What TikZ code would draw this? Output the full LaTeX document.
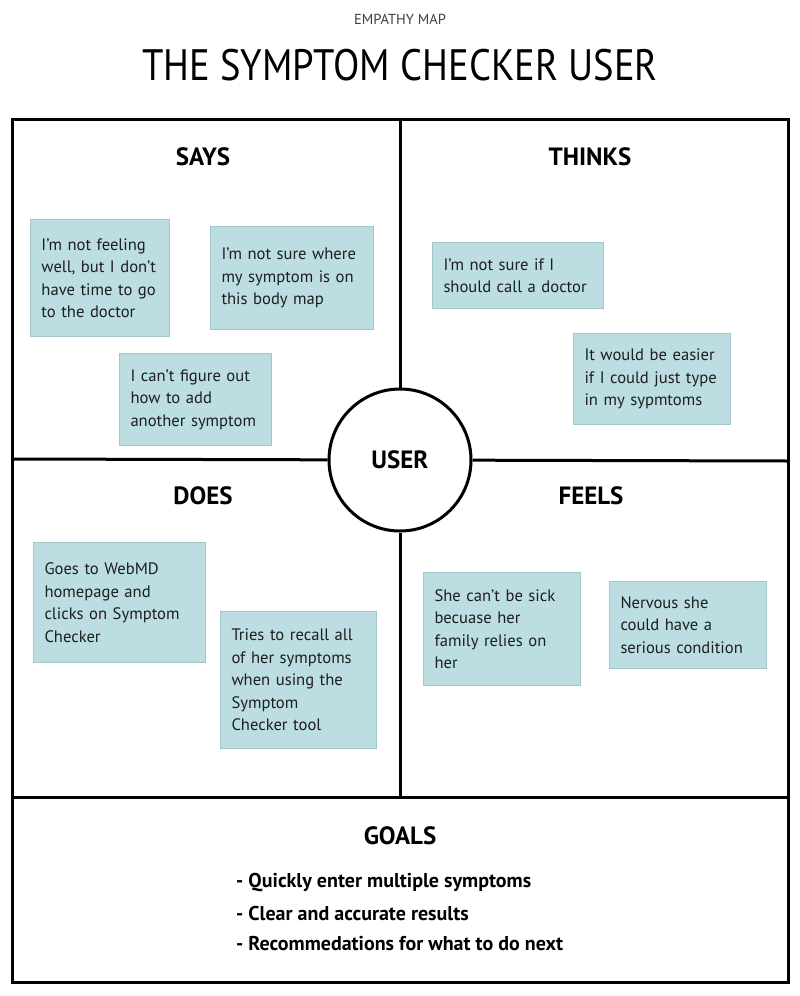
\documentclass[tikz,border=0pt]{standalone}
\usepackage{fontspec}
\usepackage{graphicx}
\setmainfont{PT Sans}
\usetikzlibrary{positioning}
\definecolor{notefill}{HTML}{BCDDE1}
\definecolor{noteline}{HTML}{A3C6CB}
\definecolor{inkgray}{HTML}{1E1E1E}
\begin{document}
\begin{tikzpicture}[x=1pt, y=-1pt,
	frame/.style = {line width=3pt},
	heading/.style = {font=\bfseries\fontsize{25}{29}\selectfont},
	note/.style = {draw=noteline, line width=1pt, fill=notefill, anchor=north west,
		align=left, inner xsep=11pt, text=inkgray, font=\fontsize{16.6}{22.5}\selectfont},
	goal/.style = {anchor=west, inner sep=0pt, font=\bfseries\fontsize{20}{24}\selectfont}]
	\useasboundingbox (0,0) rectangle (800,996);
	% Tiêu đề
	\node[text=black!75, font=\fontsize{14.5}{16}\selectfont] (kicker) at (400,19) {EMPATHY MAP};
	\node[font=\fontsize{44}{50}\selectfont] (title) at (400,65) {\scalebox{0.876}[1]{THE SYMPTOM CHECKER USER}};
	% Khung và vòng tròn
	\node[circle, draw, line width=3pt, fill=white, minimum size=142pt, inner sep=0pt,
		heading] (user) at (400,460) {USER};
	\coordinate (mt) at (400,119);
	\coordinate (mb) at (400,797);
	\coordinate (ml) at (12,459);
	\coordinate (mr) at (788,461);
	\draw[frame] (12,119) rectangle (788,982);
	\draw[frame] (12,797) -- (788,797);
	\draw[frame] (mt) -- (user);
	\draw[frame] (user) -- (mb);
	\draw[frame] (ml) -- (user);
	\draw[frame] (user) -- (mr);
	\foreach \hx/\hy/\htext in {203/157/SAYS, 590/157/THINKS, 203/496/DOES, 591/496/FEELS, 400/836/GOALS}
	\node[heading] (h\htext) at (\hx,\hy) {\htext};
	% Các ghi chú
	\node[note, minimum width=139pt, minimum height=117pt, text width=117pt] (says1) at (30,219)
		{I'm not feeling\\ well, but I don't\\ have time to go\\ to the doctor};
	\node[note, minimum width=163pt, minimum height=103pt, text width=141pt] (says2) at (210,226)
		{I'm not sure where\\ my symptom is on\\ this body map};
	\node[note, minimum width=152pt, minimum height=92pt, text width=130pt] (says3) at (119,353)
		{I can't figure out\\ how to add\\ another symptom};
	\node[note, minimum width=171pt, minimum height=66pt, text width=149pt] (thinks1) at (432,242)
		{I'm not sure if I\\ should call a doctor};
	\node[note, minimum width=157pt, minimum height=91pt, text width=135pt] (thinks2) at (573,333)
		{It would be easier\\ if I could just type\\ in my sypmtoms};
	\node[note, minimum width=172pt, minimum height=120pt, text width=150pt] (does1) at (33,542)
		{Goes to WebMD\\ homepage and\\ clicks on Symptom\\ Checker};
	\node[note, minimum width=156pt, minimum height=137pt, text width=134pt] (does2) at (220,611)
		{Tries to recall all\\ of her symptoms\\ when using the\\ Symptom\\ Checker tool};
	\node[note, minimum width=157pt, minimum height=113pt, text width=135pt] (feels1) at (423,572)
		{She can't be sick\\ becuase her\\ family relies on\\ her};
	\node[note, minimum width=157pt, minimum height=87pt, text width=135pt] (feels2) at (609,581)
		{Nervous she\\ could have a\\ serious condition};
	% Mục tiêu
	\foreach \gy/\gtext [count=\gi] in {882/- Quickly enter multiple symptoms, 913/- Clear and accurate results, 944/- Recommedations for what to do next}
	\node[goal] (goal\gi) at (236,\gy) {\gtext};
\end{tikzpicture}
\end{document}
